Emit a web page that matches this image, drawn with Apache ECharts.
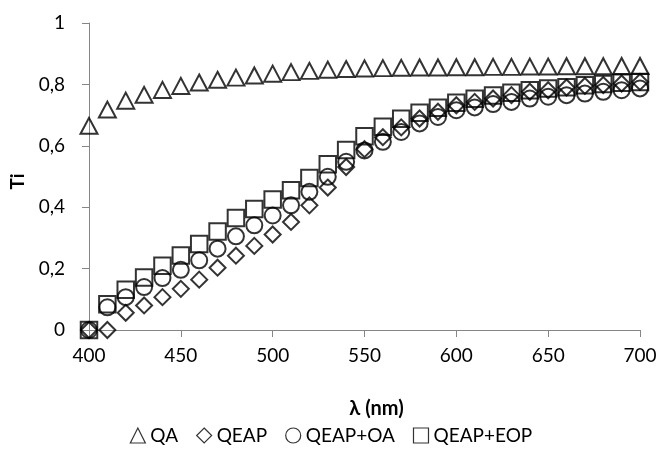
<!DOCTYPE html>
<html>
<head>
<meta charset="utf-8">
<script src="https://cdn.jsdelivr.net/npm/echarts@6/dist/echarts.min.js"></script>
<style>
  html, body { margin: 0; padding: 0; background: #fff; }
  #chart { width: 662px; height: 450px; }
</style>
</head>
<body>
<div id="chart"></div>
<script>
// wavelength (nm)
var lambda = [400, 410, 420, 430, 440, 450, 460, 470, 480, 490, 500, 510, 520, 530, 540, 550,
              560, 570, 580, 590, 600, 610, 620, 630, 640, 650, 660, 670, 680, 690, 700]
var seriesNames = ['QA', 'QEAP', 'QEAP+OA', 'QEAP+EOP']
var qa = [0.665, 0.718, 0.747, 0.766, 0.782, 0.795, 0.806, 0.815, 0.822, 0.829, 0.835, 0.840, 0.844, 0.848, 0.850, 0.852,
          0.853, 0.854, 0.855, 0.855, 0.856, 0.856, 0.857, 0.857, 0.858, 0.858, 0.859, 0.859, 0.859, 0.860, 0.860]
var qeap = [0, 0, 0.056, 0.080, 0.107, 0.134, 0.164, 0.203, 0.242, 0.274, 0.311, 0.352, 0.406, 0.464, 0.531, 0.589,
            0.628, 0.660, 0.689, 0.711, 0.732, 0.743, 0.754, 0.765, 0.776, 0.781, 0.790, 0.795, 0.798, 0.803, 0.808]
var qeapOa = [0, 0.074, 0.107, 0.140, 0.169, 0.196, 0.227, 0.265, 0.305, 0.341, 0.373, 0.406, 0.450, 0.499, 0.548, 0.585,
              0.613, 0.645, 0.673, 0.694, 0.716, 0.725, 0.736, 0.743, 0.754, 0.760, 0.765, 0.770, 0.776, 0.781, 0.787]
var qeapEop = [0, 0.084, 0.131, 0.171, 0.209, 0.243, 0.280, 0.321, 0.365, 0.394, 0.425, 0.455, 0.495, 0.540, 0.586, 0.631,
               0.662, 0.688, 0.708, 0.724, 0.740, 0.753, 0.764, 0.773, 0.781, 0.787, 0.791, 0.797, 0.801, 0.805, 0.808]
var yTicks = [0, 0.2, 0.4, 0.6, 0.8, 1]

let pairs = (xs, ys) => xs.map((x, i) => [x, ys[i]])

let drawScatter = (container) => {
    var Chart = echarts.init(document.getElementById(container))
    var font = 'Lato, "Open Sans", sans-serif'
    var marker = (name, data, symbol, size) => ({
        name: name,
        type: 'scatter',
        data: data,
        symbol: symbol,
        symbolSize: size,
        itemStyle: {
            color: 'transparent',
            borderColor: '#000',
            borderWidth: 2
        },
        emphasis: { disabled: true }
    })
    var option = {
        animation: false,
        grid: {
            left: 82,
            right: 22,
            top: 23,
            bottom: 120
        },
        legend: {
            data: seriesNames,
            bottom: 0,
            left: 'center',
            itemWidth: 15,
            itemHeight: 15,
            itemGap: 18,
            itemStyle: { borderWidth: 1.2 },
            textStyle: {
                fontSize: 19,
                fontFamily: font,
                color: '#000'
            }
        },
        xAxis: {
            type: 'value',
            min: 400,
            max: 700,
            interval: 50,
            name: 'λ (nm)',
            nameLocation: 'middle',
            nameGap: 69,
            nameTextStyle: {
                fontSize: 20,
                fontWeight: 'bold',
                fontFamily: font,
                color: '#000',
                padding: [0, 0, 0, 24]
            },
            axisLine: { show: true, lineStyle: { color: '#868686', width: 1 } },
            axisTick: { show: true, length: 7, lineStyle: { color: '#868686' } },
            splitLine: { show: false },
            axisLabel: {
                margin: 16,
                fontSize: 19,
                fontFamily: font,
                color: '#000'
            }
        },
        yAxis: {
            type: 'value',
            min: yTicks[0],
            max: yTicks[yTicks.length - 1],
            interval: 0.2,
            name: 'Ti',
            nameLocation: 'middle',
            nameRotate: 90,
            nameGap: 62,
            nameTextStyle: {
                fontSize: 19,
                fontWeight: 'bold',
                fontFamily: font,
                color: '#000',
                padding: [0, 10, 0, 0]
            },
            axisLine: { show: true, lineStyle: { color: '#868686', width: 1 } },
            axisTick: { show: true, length: 7, lineStyle: { color: '#868686' } },
            splitLine: { show: false },
            axisLabel: {
                margin: 24,
                fontSize: 19,
                fontFamily: font,
                color: '#000',
                formatter: (v) => String(Math.round(v * 10) / 10).replace('.', ',')
            }
        },
        series: [
            marker(seriesNames[0], pairs(lambda, qa), 'triangle', [17, 16]),
            marker(seriesNames[1], pairs(lambda, qeap), 'diamond', 16),
            marker(seriesNames[2], pairs(lambda, qeapOa), 'circle', 16),
            marker(seriesNames[3], pairs(lambda, qeapEop), 'rect', 16.5)
        ]
    };
    Chart.setOption(option)
}
drawScatter('chart')
</script>
</body>
</html>
